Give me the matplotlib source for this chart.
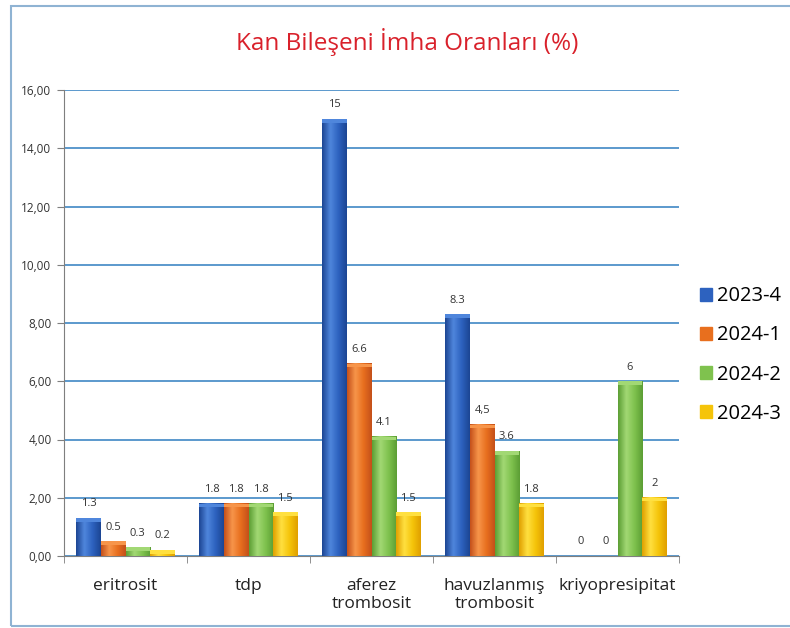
import matplotlib
matplotlib.use("Agg")
import matplotlib.pyplot as plt
import numpy as np
from matplotlib.colors import LinearSegmentedColormap
from matplotlib.patches import Rectangle

categories = ["eritrosit", "tdp", "aferez\ntrombosit", "havuzlanmış\ntrombosit", "kriyopresipitat"]
series = ["2023-4", "2024-1", "2024-2", "2024-3"]
v2023_4 = [1.3, 1.8, 15, 8.3, 0]
v2024_1 = [0.5, 1.8, 6.6, 4.5, 0]
v2024_2 = [0.3, 1.8, 4.1, 3.6, 6]
v2024_3 = [0.2, 1.5, 1.5, 1.8, 2]
labels_2023_4 = ["1.3", "1.8", "15", "8.3", "0"]
labels_2024_1 = ["0.5", "1.8", "6.6", "4,5", "0"]
labels_2024_2 = ["0.3", "1.8", "4.1", "3.6", "6"]
labels_2024_3 = ["0.2", "1.5", "1.5", "1.8", "2"]
yticks = [0, 2, 4, 6, 8, 10, 12, 14, 16]
ytick_labels = ["0,00", "2,00", "4,00", "6,00", "8,00", "10,00", "12,00", "14,00", "16,00"]

values = [v2023_4, v2024_1, v2024_2, v2024_3]
labels = [labels_2023_4, labels_2024_1, labels_2024_2, labels_2024_3]
base_colors = ["#2d62bf", "#e86f1e", "#7fc24e", "#f5c40a"]
dark_colors = ["#1c4593", "#c4501a", "#5c9e34", "#e0a000"]
light_colors = ["#4f86dc", "#f7954a", "#a2d874", "#ffe040"]

plt.rcParams['font.family'] = ['Open Sans', 'DejaVu Sans']

fig = plt.figure(figsize=(7.9, 6.28), dpi=100)
fig.patch.set_facecolor("white")
# outer frame
fig.add_artist(Rectangle((11/790, 2/628), 1.0, 620/628, transform=fig.transFigure,
                         fill=False, edgecolor="#8fb3d3", linewidth=1.5))

ax = fig.add_axes([64/790, 1 - 556/628, 615/790, 466/628])
x = np.arange(len(categories))
w = 0.2
offsets = [-1.5, -0.5, 0.5, 1.5]

for i, (vals, labs) in enumerate(zip(values, labels)):
    bars = ax.bar(x + offsets[i] * w, vals, width=w, color=base_colors[i],
                  label=series[i], zorder=3, linewidth=0)
    cmap = LinearSegmentedColormap.from_list("g", [dark_colors[i], light_colors[i], base_colors[i], dark_colors[i]])
    grad = np.linspace(0, 1, 64).reshape(1, -1)
    for b, lab in zip(bars, labs):
        h = b.get_height()
        x0 = b.get_x()
        bw = b.get_width()
        if h > 0:
            ax.imshow(grad, extent=[x0, x0 + bw, 0, h], aspect="auto", cmap=cmap,
                      zorder=3.5, interpolation="bicubic")
            ax.add_patch(Rectangle((x0, h - 0.12), bw, 0.12, color=light_colors[i], zorder=4, linewidth=0))
        ax.text(x0 + bw / 2, h + 0.3, lab, ha="center", va="bottom", fontsize=8,
                color="#333333", zorder=5)

ax.set_xlim(-0.5, len(categories) - 0.5)
ax.set_ylim(0, 16)
ax.set_yticks(yticks)
ax.set_yticklabels(ytick_labels, fontsize=8.5, color="#333333")
ax.yaxis.grid(True, color="#3f88c5", linewidth=1.2, zorder=0)
ax.set_axisbelow(True)

ax.set_xticks(x)
ax.set_xticklabels(categories, fontsize=12.5, color="#222222", linespacing=1.15)
ax.tick_params(axis="x", length=0, pad=16)
ax.set_xticks(np.arange(-0.5, len(categories)), minor=True)
ax.tick_params(axis="x", which="minor", length=5, direction="out", color="#7f7f7f")
ax.tick_params(axis="y", length=5, direction="out", color="#7f7f7f", pad=4)

for s in ["top", "right"]:
    ax.spines[s].set_visible(False)
ax.spines["left"].set_color("#7f7f7f")
ax.spines["bottom"].set_color("#7f7f7f")

fig.text(407/790, 1 - 42/628, "Kan Bileşeni İmha Oranları (%)", ha="center", va="center",
         fontsize=17.5, color="#d9212b")

handles = [Rectangle((0, 0), 1, 1, color=c) for c in base_colors]
fig.legend(handles, series, loc="center left", bbox_to_anchor=(690/790, 1 - 355/628),
           frameon=False, fontsize=14.5, handlelength=0.6, handleheight=0.6,
           handletextpad=0.25, labelspacing=0.95, borderpad=0)

fig.savefig("out.png", dpi=100, facecolor="white")
